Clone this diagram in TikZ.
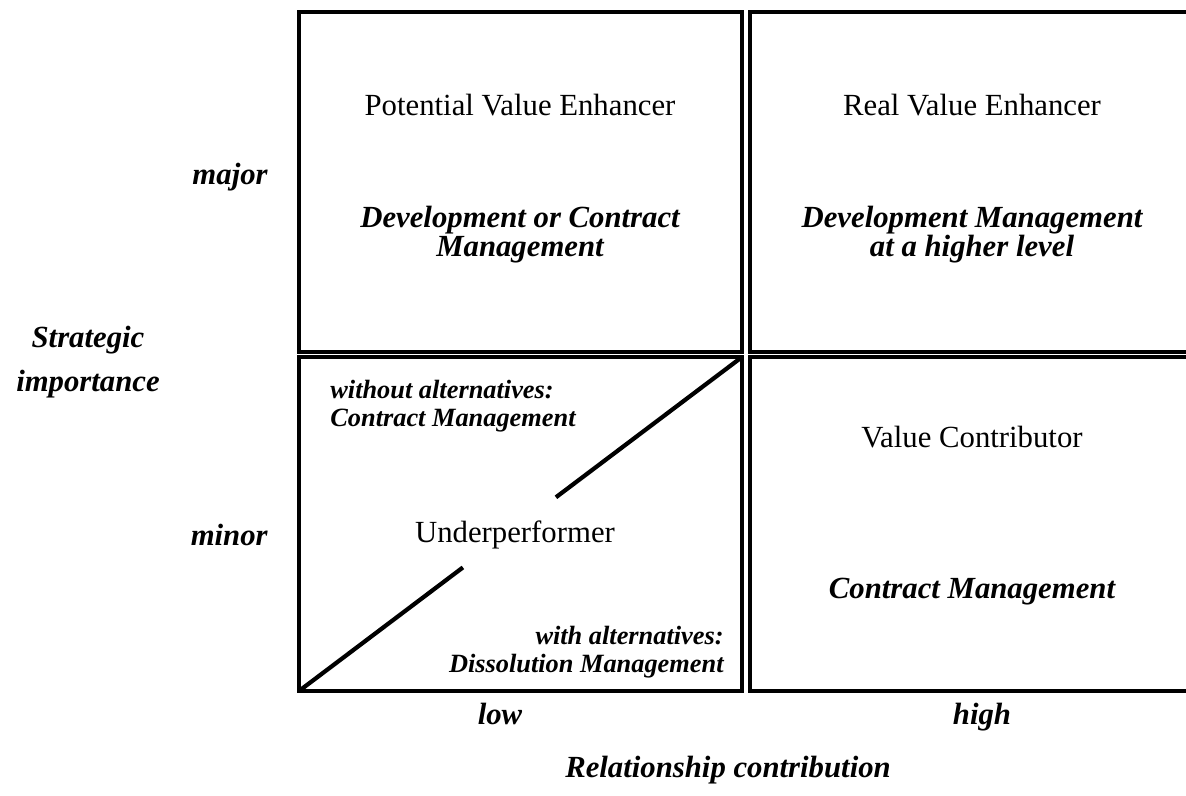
\documentclass[tikz,border=0pt]{standalone}
\usepackage{fontspec}
\setmainfont{Liberation Serif}
\usetikzlibrary{calc}

\tikzset{
  cell/.style={line width=2.4pt},
  big/.style={font=\fontsize{17.5}{16.5}\selectfont, align=center, inner sep=0pt},
  bigit/.style={big, font=\fontsize{17.5}{16.5}\selectfont\bfseries\itshape},
  small/.style={font=\fontsize{15}{16}\selectfont\bfseries\itshape, inner sep=0pt},
}

\begin{document}
\begin{tikzpicture}[x=0.02cm,y=-0.02cm]
\clip (0,0) rectangle (1186,795);

% the four cells
\draw[cell] (299,12) rectangle (742,352);
\draw[cell] (750,12) rectangle (1194,352);
\draw[cell] (299,357) rectangle (742,691);
\draw[cell] (750,357) rectangle (1194,691);

% split diagonal of the lower left cell
\coordinate (dlo) at (299,691);
\coordinate (dhi) at (742,357);
\draw[cell] (dlo) -- ($(dlo)!0.37!(dhi)$);
\draw[cell] ($(dlo)!0.58!(dhi)$) -- (dhi);

\node[big] (pve) at (520,105) {Potential Value Enhancer};
\node[bigit] (pvem) at (520,235) {Development or Contract\\Management};
\node[big] (rve) at (972,105) {Real Value Enhancer};
\node[bigit] (rvem) at (972,235) {Development Management\\at a higher level};
\node[big] (vc) at (972,437) {Value Contributor};
\node[bigit] (vcm) at (972,592) {Contract Management};
\node[big] (up) at (515,535) {Underperformer};
\node[small, anchor=west, align=left] (woalt) at (330,406) {without alternatives:\\Contract Management};
\node[small, anchor=east, align=right] (walt) at (724,652) {with alternatives:\\Dissolution Management};

% axes
\node[bigit, anchor=east] (major) at (268,177) {major};
\node[bigit, anchor=east] (minor) at (268,535) {minor};
\node[bigit, font=\fontsize{17.5}{25.5}\selectfont\bfseries\itshape] (strat) at (88,362) {Strategic\\importance};
\node[bigit, anchor=base] (low) at (500,724) {low};
\node[bigit, anchor=base] (high) at (982,724) {high};
\node[bigit] (rc) at (728,770) {Relationship contribution};
\end{tikzpicture}
\end{document}
